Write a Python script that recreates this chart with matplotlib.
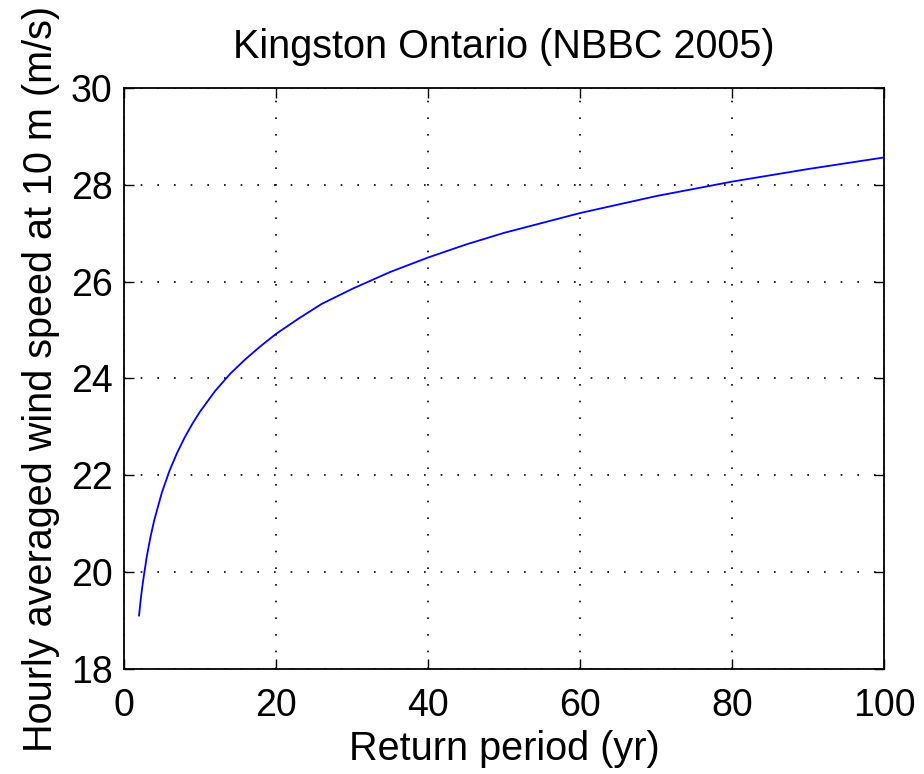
import numpy as np
import matplotlib
matplotlib.use("Agg")
import matplotlib.pyplot as plt

plt.rcParams['font.family'] = ['Liberation Sans', 'DejaVu Sans']

# return period (yr) and hourly wind speed
return_period = [2, 2.25, 2.5, 3, 3.5, 4, 5, 6, 7, 8, 9, 10, 12, 14, 16,
                 18, 20, 23, 26, 30, 35, 40, 45, 50, 60, 70, 80, 90, 100]
wind_speed = [19.10, 19.47, 19.78, 20.30, 20.72, 21.07, 21.64, 22.09,
              22.46, 22.78, 23.06, 23.31, 23.74, 24.10, 24.40, 24.67,
              24.92, 25.24, 25.54, 25.85, 26.20, 26.50, 26.77, 27.01,
              27.42, 27.77, 28.07, 28.33, 28.57]

fig = plt.figure(figsize=(9.24, 7.74), dpi=100)
ax = fig.add_axes([0.134, 0.136, 0.823, 0.750])

ax.plot(return_period, wind_speed, color='#0000ff', lw=1.3)

ax.set_xlim(0, 100)
ax.set_ylim(18, 30)
ax.set_xticks(np.arange(0, 101, 20))
ax.set_yticks(np.arange(18, 31, 2))
ax.grid(True, color='black', linestyle=(0, (1, 9)), lw=1.2)
ax.tick_params(direction='in', length=7, width=1, labelsize=27,
               top=True, right=True)
ax.tick_params(axis='x', pad=14)
ax.tick_params(axis='y', pad=8)
for s in ax.spines.values():
    s.set_linewidth(1.3)

ax.set_xlabel("Return period (yr)", fontsize=28.5, labelpad=4)
ax.set_ylabel("Hourly averaged wind speed at 10 m (m/s)", fontsize=28.5, labelpad=8)
ax.set_title("Kingston Ontario (NBBC 2005)", fontsize=28.5, pad=22)

fig.savefig("out.png", dpi=100)
